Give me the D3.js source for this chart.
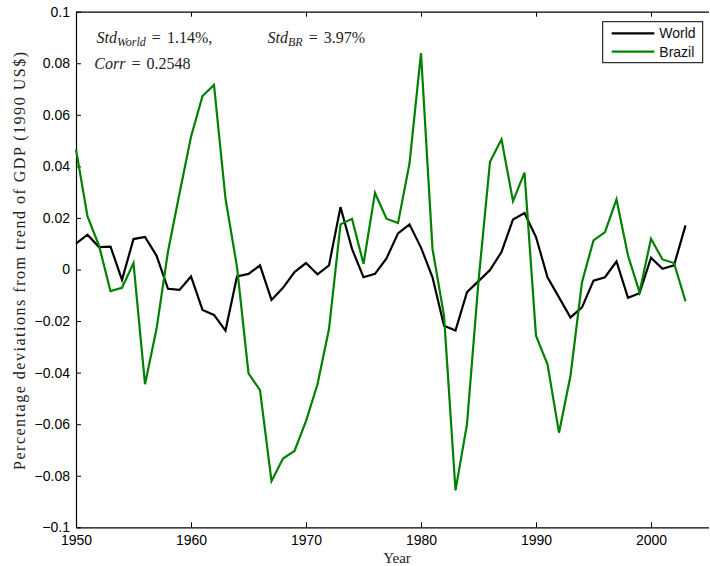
<!DOCTYPE html>
<html>
<head>
<meta charset="utf-8">
<script src="https://cdn.jsdelivr.net/npm/d3@7"></script>
<style>
  html, body { margin: 0; padding: 0; background: #fff; }
  svg { display: block; }
  .tick text { font-family: "Liberation Sans", Arial, sans-serif; font-size: 14px; fill: #000; }
  .serif { font-family: "Liberation Serif", "Times New Roman", serif; fill: #222; }
</style>
</head>
<body>
<svg id="chart" width="710" height="566"></svg>
<script>
// Cyclical components of GDP (deviation from trend), 1950-2003
const years = d3.range(1950, 2004);

const world = [
  0.0100, 0.0135, 0.0087, 0.0089, -0.0040, 0.0118, 0.0126, 0.0054, -0.0075, -0.0079,
  -0.0027, -0.0157, -0.0176, -0.0237, -0.0027, -0.0017, 0.0016, -0.0118, -0.0071, -0.0010,
  0.0025, -0.0019, 0.0016, 0.0242, 0.0080, -0.0030, -0.0017, 0.0043, 0.0140, 0.0175,
  0.0085, -0.0030, -0.0218, -0.0237, -0.0088, -0.0045, -0.0002, 0.0068, 0.0194, 0.0219,
  0.0126, -0.0030, -0.0108, -0.0186, -0.0147, -0.0043, -0.0030, 0.0031, -0.0110, -0.0092,
  0.0046, 0.0003, 0.0016, 0.0171
];

const brazil = [
  0.0466, 0.0206, 0.0093, -0.0084, -0.0071, 0.0025, -0.0445, -0.0231, 0.0070, 0.0295,
  0.0515, 0.0673, 0.0716, 0.0275, 0.0010, -0.0403, -0.0468, -0.0821, -0.0733, -0.0704,
  -0.0588, -0.0445, -0.0231, 0.0175, 0.0197, 0.0022, 0.0297, 0.0197, 0.0180, 0.0411,
  0.0839, 0.0080, -0.0179, -0.0857, -0.0600, -0.0045, 0.0418, 0.0505, 0.0265, 0.0376,
  -0.0257, -0.0368, -0.0633, -0.0412, -0.0049, 0.0113, 0.0145, 0.0272, 0.0054, -0.0088,
  0.0119, 0.0039, 0.0025, -0.0123
];

const xTicks = [1950, 1960, 1970, 1980, 1990, 2000];
const yTicks = [0.1, 0.08, 0.06, 0.04, 0.02, 0, -0.02, -0.04, -0.06, -0.08, -0.1];

const seriesNames = ["World", "Brazil"];
const seriesColors = ["#000000", "#008000"];

const svg = d3.select("#chart");
const plot = { left: 76, right: 708.5, top: 11.7, bottom: 527.3 };

const x = d3.scaleLinear().domain([1950, 2005]).range([plot.left, plot.right]);
const y = d3.scaleLinear().domain([-0.1, 0.1]).range([plot.bottom, plot.top]);

const fmtY = v => (v === 0 ? "0" : String(+v.toFixed(2)).replace("-", "\u2212"));

// Axes: ticks point inward
const gx = svg.append("g").attr("transform", `translate(0,${plot.bottom})`)
  .call(d3.axisBottom(x).tickValues(xTicks).tickSizeInner(-5).tickSizeOuter(0).tickPadding(8).tickFormat(d3.format("d")));
const gy = svg.append("g").attr("transform", `translate(${plot.left},0)`)
  .call(d3.axisLeft(y).tickValues(yTicks).tickSizeInner(-5).tickSizeOuter(0).tickPadding(6).tickFormat(fmtY));
const gt = svg.append("g").attr("transform", `translate(0,${plot.top})`)
  .call(d3.axisTop(x).tickValues(xTicks).tickSizeInner(-5).tickSizeOuter(0).tickFormat(""));

[gx, gy, gt].forEach(g => {
  g.select(".domain").attr("stroke", "#000").attr("stroke-width", 1.2);
  g.selectAll(".tick line").attr("stroke", "#000").attr("stroke-width", 1);
});

// Series lines
const line = d3.line().x((d, i) => x(years[i])).y(d => y(d));
[world, brazil].forEach((vals, k) => {
  svg.append("path")
    .datum(vals)
    .attr("fill", "none")
    .attr("stroke", seriesColors[k])
    .attr("stroke-width", 2.2)
    .attr("stroke-linejoin", "miter")
    .attr("d", line);
});

// Axis titles
svg.append("text").attr("class", "serif")
  .attr("x", 397).attr("y", 562.5)
  .attr("text-anchor", "middle").attr("font-size", 15)
  .text("Year");

svg.append("text").attr("class", "serif")
  .attr("transform", `translate(24.5,261) rotate(-90)`)
  .attr("text-anchor", "middle").attr("font-size", 16)
  .attr("textLength", 418).attr("lengthAdjust", "spacing")
  .text("Percentage deviations from trend of GDP (1990 US$)");

// Statistics annotations, set in math style with wide spacing around "="
function stat(xp, yp, name, sub, value) {
  const t = svg.append("text").attr("class", "serif").attr("x", xp).attr("y", yp).attr("font-size", 16);
  t.append("tspan").attr("font-style", "italic").text(name);
  if (sub) {
    t.append("tspan").attr("font-style", "italic").attr("font-size", 12).attr("dy", 3.5).text(sub);
    t.append("tspan").attr("dy", -3.5).attr("dx", 6).text("=");
  } else {
    t.append("tspan").attr("dx", 6).text("=");
  }
  t.append("tspan").attr("dx", 6).text(value);
}
stat(96.5, 42.7, "Std", "World", "1.14%,");
stat(267.5, 42.7, "Std", "BR", "3.97%");
stat(94.3, 68.5, "Corr", null, "0.2548");

// Legend
const lg = svg.append("g");
lg.append("rect").attr("x", 602.7).attr("y", 21.7).attr("width", 100).attr("height", 41)
  .attr("fill", "#fff").attr("stroke", "#000").attr("stroke-width", 1);
seriesNames.forEach((name, k) => {
  const yy = 33.3 + k * 18.4;
  lg.append("line").attr("x1", 611.7).attr("x2", 654.3).attr("y1", yy).attr("y2", yy)
    .attr("stroke", seriesColors[k]).attr("stroke-width", 2.2);
  lg.append("text").attr("x", 659.3).attr("y", yy).attr("dy", "0.35em")
    .attr("font-family", "Liberation Sans, Arial, sans-serif").attr("font-size", 14).attr("fill", "#111")
    .text(name);
});
</script>
</body>
</html>
